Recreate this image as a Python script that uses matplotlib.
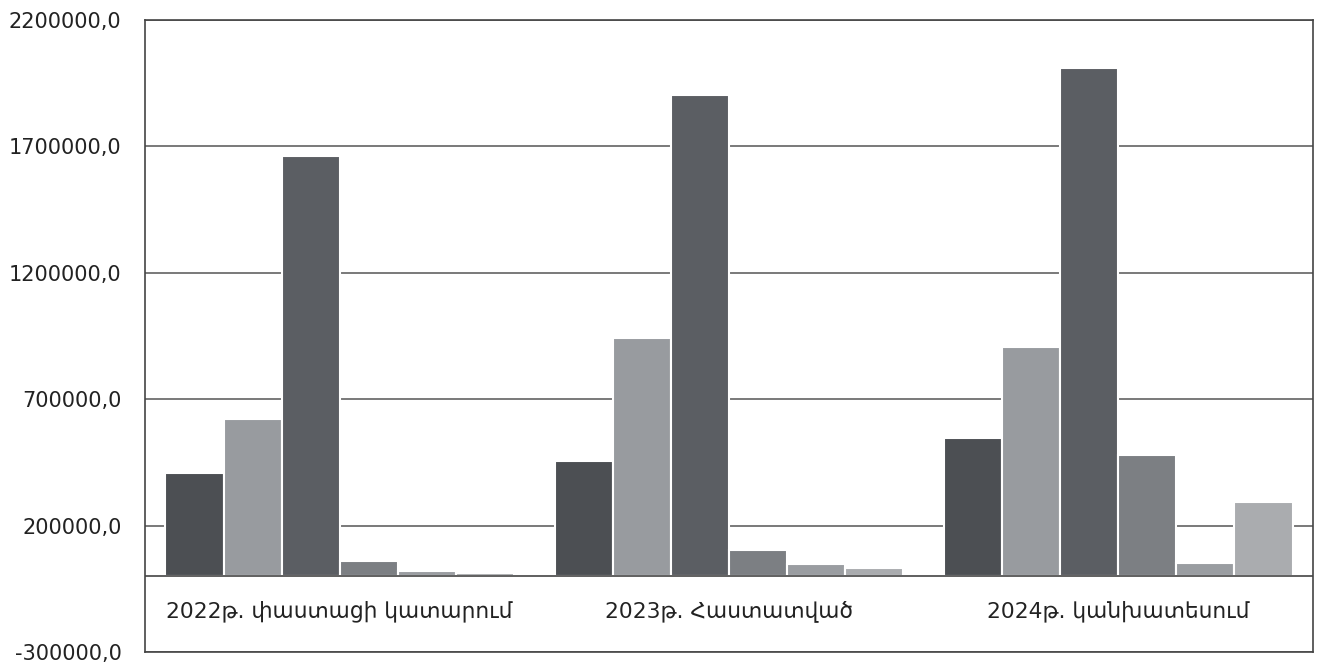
import matplotlib
matplotlib.use("Agg")
import matplotlib.pyplot as plt
import numpy as np

plt.rcParams['font.family'] = ['DejaVu Sans']

categories = ["2022թ. փաստացի կատարում", "2023թ. Հաստատված", "2024թ. կանխատեսում"]
series1 = [409000, 454000, 548000]
series2 = [623000, 943000, 907000]
series3 = [1661000, 1903000, 2011000]
series4 = [61000, 105000, 480000]
series5 = [21000, 48000, 54000]
series6 = [11000, 33000, 295000]
all_series = [series1, series2, series3, series4, series5, series6]
colors = ["#4c4f53", "#989b9f", "#5b5e63", "#7c7f83", "#9a9da1", "#aaacaf"]

yticks = [-300000, 200000, 700000, 1200000, 1700000, 2200000]
ytick_labels = ["-300000,0", "200000,0", "700000,0", "1200000,0", "1700000,0", "2200000,0"]

fig = plt.figure(figsize=(13.22, 6.66), dpi=100)
ax = fig.add_axes([145/1322, 1 - 652/666, (1313-145)/1322, (652-20)/666])

x = np.arange(len(categories))
n = len(all_series)
group_w = 0.895
w = group_w / n
for i, (s, c) in enumerate(zip(all_series, colors)):
    ax.bar(x - group_w/2 + w*(i+0.5), s, width=w, color=c, edgecolor="white", linewidth=1.5, zorder=3)

ax.set_xlim(-0.5, 2.5)
ax.set_ylim(-300000, 2200000)
ax.set_yticks(yticks)
ax.set_yticklabels(ytick_labels, fontsize=15, color="#222222")
ax.tick_params(axis='y', length=0, pad=17)
ax.set_xticks([])
ax.grid(axis='y', color="#555555", linewidth=1.1, zorder=0)
ax.axhline(0, color="#444444", linewidth=1.2, zorder=4)
for sp in ax.spines.values():
    sp.set_color("#444444")
    sp.set_linewidth(1.2)

for i, cat in enumerate(categories):
    ax.text(x[i], -140000, cat, ha='center', va='center', fontsize=15.7, color="#222222")

fig.savefig("out.png", dpi=100)
